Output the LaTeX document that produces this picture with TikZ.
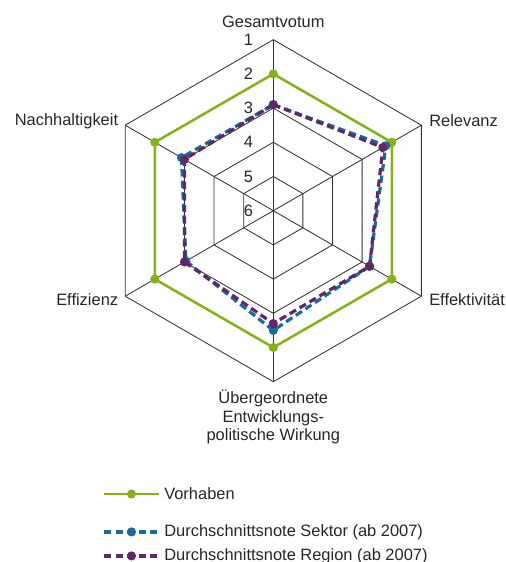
\documentclass[tikz,border=0pt]{standalone}
\usepackage{fontspec}
\setmainfont{Liberation Sans}

\definecolor{vorhaben}{RGB}{134,176,30}
\definecolor{sektor}{RGB}{30,105,150}
\definecolor{region}{RGB}{95,40,105}

\begin{document}
\begin{tikzpicture}[
	gridline/.style={black!80, line width=0.6pt},
	serie/.style={line width=1.8pt, line join=round},
	dashserie/.style={serie, line width=2.3pt, dash pattern=on 5.2pt off 3pt},
	punkt/.style={circle, inner sep=0pt, minimum size=0.23cm},
	achse/.style={font=\fontsize{11.7}{13.3}\selectfont, text=black!85, inner sep=0pt},
]
	\useasboundingbox (-6.8325,-8.7825) rectangle (5.8175,5.2675);

	% Netz
	\foreach \r in {1,...,5}
		\draw[gridline] (90:\r*0.855) -- (30:\r*0.855) -- (-30:\r*0.855) -- (-90:\r*0.855) -- (-150:\r*0.855) -- (150:\r*0.855) -- cycle;
	\foreach \a/\n in {90/ges,30/rel,-30/eff,-90/ueb,-150/ezz,150/nac} {
		\coordinate (\n) at (\a:4.275);
		\draw[gridline] (0,0) -- (\n);
	}
	\foreach \k in {1,...,6}
		\node[achse, anchor=east] (lev\k) at (-0.5,{(6-\k)*0.855}) {\k};

	% Achsen
	\node[achse] (tges) at (0,4.72) {Gesamtvotum};
	\node[achse, anchor=west] (trel) at ([xshift=0.19cm, yshift=0.11cm]rel) {Relevanz};
	\node[achse, anchor=west] (teff) at ([xshift=0.19cm, yshift=-0.09cm]eff) {Effektivität};
	\node[achse, align=center] (tueb) at (0,-5.16) {Übergeordnete\\Entwicklungs-\\politische Wirkung};
	\node[achse, anchor=east] (tezz) at ([xshift=-0.17cm, yshift=-0.09cm]ezz) {Effizienz};
	\node[achse, anchor=east] (tnac) at ([xshift=-0.17cm, yshift=0.09cm]nac) {Nachhaltigkeit};

	% Vorhaben
	\foreach \a/\v [count=\i] in {90/2,30/2,-30/2,-90/2,-150/2,150/2}
		\coordinate (v\i) at (\a:{(6-\v)*0.855});
	\draw[serie, vorhaben] (v1) -- (v2) -- (v3) -- (v4) -- (v5) -- (v6) -- cycle;
	\foreach \i in {1,...,6}
		\node[punkt, fill=vorhaben] (vp\i) at (v\i) {};

	% Sektor
	\foreach \a/\v [count=\i] in {90/2.9,30/2.2,-30/2.75,-90/2.5,-150/3.05,150/2.9}
		\coordinate (s\i) at (\a:{(6-\v)*0.855});
	\draw[dashserie, sektor] (s1) -- (s2) -- (s3) -- (s4) -- (s5) -- (s6) -- cycle;
	\foreach \i in {1,...,6}
		\node[punkt, fill=sektor] (sp\i) at (s\i) {};

	% Region
	\foreach \a/\v [count=\i] in {90/2.9,30/2.3,-30/2.75,-90/2.7,-150/3,150/3}
		\coordinate (r\i) at (\a:{(6-\v)*0.855});
	\draw[dashserie, region] (r1) -- (r2) -- (r3) -- (r4) -- (r5) -- (r6) -- cycle;
	\foreach \i in {1,...,6}
		\node[punkt, fill=region] (rp\i) at (r\i) {};

	% Legende
	\coordinate (l1a) at (-4.2325,-7.0825);
	\coordinate (l1b) at (-2.8575,-7.0825);
	\draw[serie, vorhaben] (l1a) -- node[punkt, fill=vorhaben] (l1p) {} (l1b);
	\node[achse, anchor=west] (l1t) at ([xshift=0.125cm]l1b) {Vorhaben};

	\coordinate (l2a) at (-4.2325,-8.03);
	\coordinate (l2b) at (-2.8575,-8.03);
	\draw[dashserie, sektor] (l2a) -- node[punkt, fill=sektor] (l2p) {} (l2b);
	\node[achse, anchor=west] (l2t) at ([xshift=0.125cm]l2b) {Durchschnittsnote Sektor (ab 2007)};

	\coordinate (l3a) at (-4.2325,-8.63);
	\coordinate (l3b) at (-2.8575,-8.63);
	\draw[dashserie, region] (l3a) -- node[punkt, fill=region] (l3p) {} (l3b);
	\node[achse, anchor=west] (l3t) at ([xshift=0.125cm]l3b) {Durchschnittsnote Region (ab 2007)};
\end{tikzpicture}
\end{document}
